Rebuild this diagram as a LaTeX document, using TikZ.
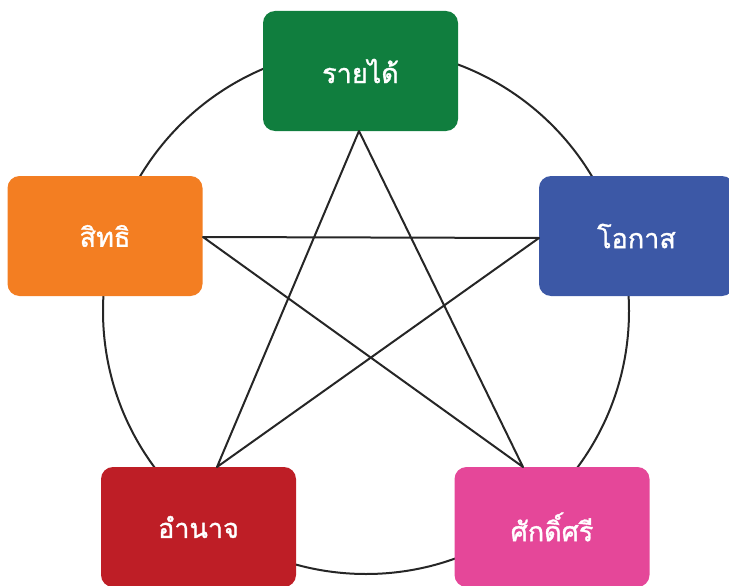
\documentclass[tikz,border=0pt]{standalone}
\usepackage{fontspec}
\newfontfamily\thaifont[Script=Thai,FakeBold=1.3]{Loma}
\definecolor{cgreen}{HTML}{107E3E}
\definecolor{corange}{HTML}{F37E22}
\definecolor{cblue}{HTML}{3C58A6}
\definecolor{cred}{HTML}{BE1E26}
\definecolor{cpink}{HTML}{E54799}
\begin{document}
\begin{tikzpicture}[x=1pt,y=-1pt,
  box/.style={rounded corners=12pt, minimum width=195pt, minimum height=120pt, inner sep=0pt, text=white, font=\thaifont\fontsize{27}{31}\selectfont},
  edge/.style={line width=2pt, draw=black!85}]
\useasboundingbox (0,0) rectangle (729,586);
\draw[edge] (366,311) circle (263);
\node[box, fill=cgreen] (top) at (360.5,71) {รายได้};
\node[box, fill=corange] (left) at (105,236) {สิทธิ};
\node[box, fill=cblue] (right) at (636.5,236) {โอกาส};
\node[box, fill=cred] (bl) at (198.5,527) {อำนาจ};
\node[box, fill=cpink] (br) at (552,527) {ศักดิ์ศรี};
\coordinate (vt) at (359,131);
\coordinate (vl) at (203,237);
\coordinate (vr) at (539,238);
\coordinate (vbl) at (217,467);
\coordinate (vbr) at (523,467);
\draw[edge, line join=round] (vt) -- (vbl) -- (vr) -- (vl) -- (vbr) -- cycle;
\end{tikzpicture}
\end{document}
